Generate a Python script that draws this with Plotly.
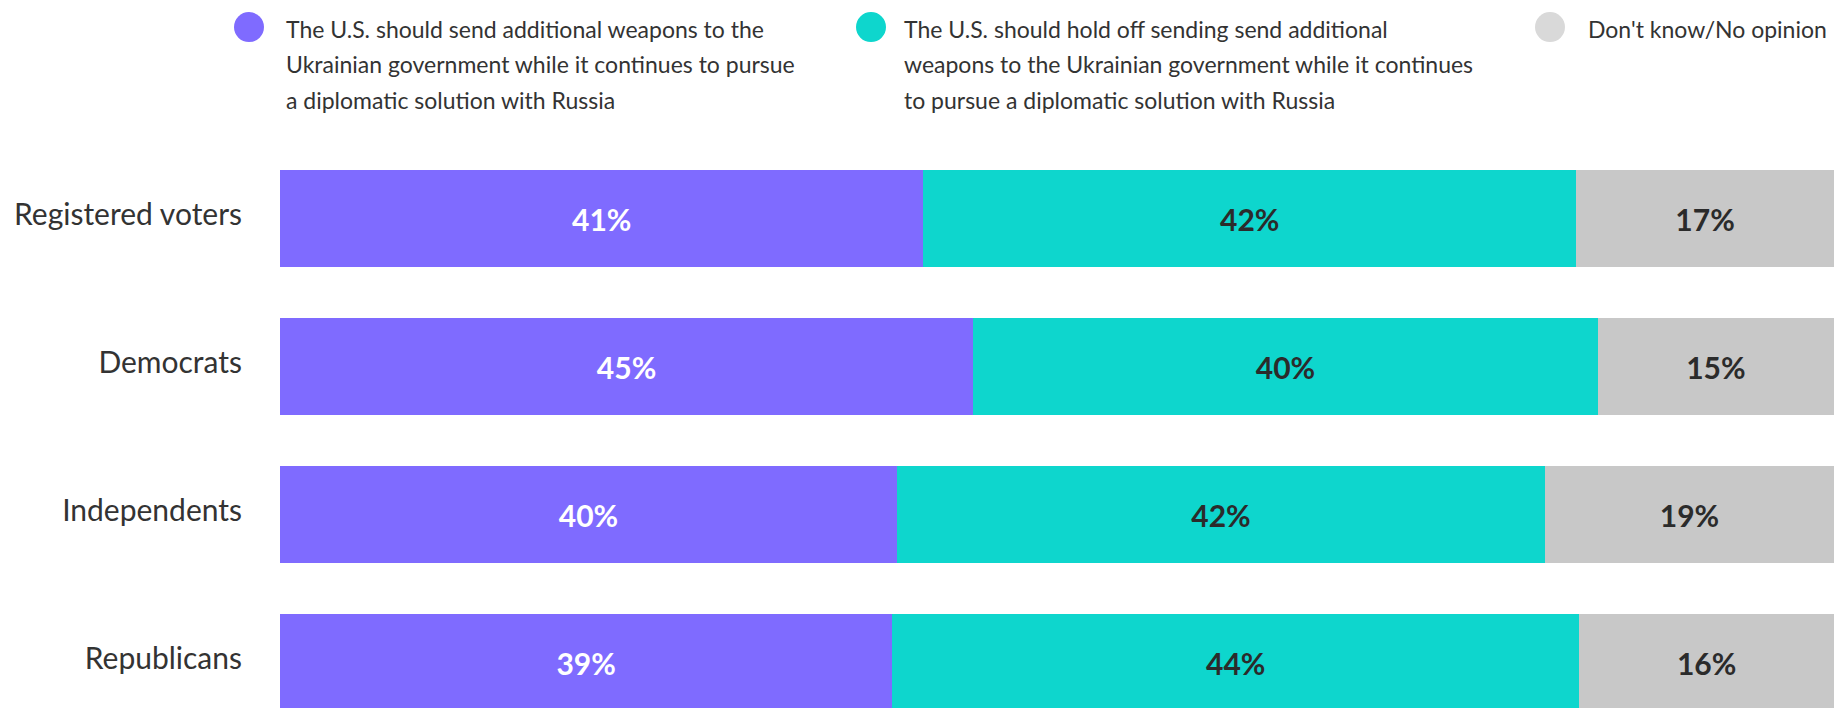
import plotly.graph_objects as go

# ---- data ----
groups = ["Registered voters", "Democrats", "Independents", "Republicans"]
send_more = [41.4, 44.6, 39.7, 39.4]
hold_off = [42.0, 40.2, 41.7, 44.2]
dont_know = [16.6, 15.2, 18.6, 16.4]
send_labels = ["41%", "45%", "40%", "39%"]
hold_labels = ["42%", "40%", "42%", "44%"]
dk_labels = ["17%", "15%", "19%", "16%"]

series_names = [
    "The U.S. should send additional weapons to the Ukrainian government while it continues to pursue a diplomatic solution with Russia",
    "The U.S. should hold off sending send additional weapons to the Ukrainian government while it continues to pursue a diplomatic solution with Russia",
    "Don't know/No opinion",
]
legend_lines = [
    ["The U.S. should send additional weapons to the",
     "Ukrainian government while it continues to pursue",
     "a diplomatic solution with Russia"],
    ["The U.S. should hold off sending send additional",
     "weapons to the Ukrainian government while it continues",
     "to pursue a diplomatic solution with Russia"],
    ["Don't know/No opinion"],
]

# ---- style ----
W, H = 1834, 708
ML, MR, MT, MB = 280, 0, 144.5, 0
PURPLE = "#7F6BFF"
TEAL = "#0ED6CD"
GREY = "#C8C8C8"
LEG_COLORS = ["#7F6BFF", "#0ED6CD", "#D9D9D9"]
FONT = "Lato, 'Open Sans', sans-serif"
TXT = "#333333"

fig = go.Figure()
for vals, labels, color, tcolor, name in [
    (send_more, send_labels, PURPLE, "white", series_names[0]),
    (hold_off, hold_labels, TEAL, "#2b2b2b", series_names[1]),
    (dont_know, dk_labels, GREY, "#2b2b2b", series_names[2]),
]:
    fig.add_trace(go.Bar(
        y=groups, x=vals, orientation="h", name=name,
        marker=dict(color=color, line=dict(width=0)),
        text=labels, textposition="inside", insidetextanchor="middle",
        textangle=0, constraintext="none",
        textfont=dict(family=FONT, size=30, color=tcolor, weight="bold"),
        showlegend=False, hoverinfo="skip",
    ))

plot_w = W - ML - MR
plot_h = H - MT - MB
row_px = 148.0
y_bottom = -0.5 + plot_h / row_px

def px_x(p):
    return (p - ML) / plot_w

def px_y(p):
    return (H - MB - p) / plot_h

# legend built from dots and text lines
dot_x = [249, 871, 1550]
text_x = [284, 902, 1586]
dot_y = 26.5
line_y0 = 28
line_step = 35.7
shapes = []
annotations = []
for i, lines in enumerate(legend_lines):
    shapes.append(dict(
        type="circle", xref="paper", yref="paper",
        xsizemode="pixel", ysizemode="pixel",
        xanchor=px_x(dot_x[i]), yanchor=px_y(dot_y),
        x0=-15, x1=15, y0=-15, y1=15,
        fillcolor=LEG_COLORS[i], line=dict(width=0),
    ))
    for j, line in enumerate(lines):
        annotations.append(dict(
            text=line, xref="paper", yref="paper",
            x=px_x(text_x[i]), y=px_y(line_y0 + j * line_step),
            xanchor="left", yanchor="middle", showarrow=False,
            font=dict(family=FONT, size=23, color=TXT),
        ))

fig.update_layout(
    width=W, height=H,
    margin=dict(l=ML, r=MR, t=MT, b=MB, pad=0),
    barmode="stack", bargap=1 - 97 / row_px,
    plot_bgcolor="white", paper_bgcolor="white",
    xaxis=dict(range=[0, 100], visible=False, fixedrange=True),
    yaxis=dict(
        categoryorder="array", categoryarray=groups,
        range=[y_bottom, -0.5],
        showgrid=False, zeroline=False, showline=False,
        ticks="", ticklabelstandoff=37, ticklabelshift=4,
        tickfont=dict(family=FONT, size=30, color=TXT),
        fixedrange=True,
    ),
    shapes=shapes, annotations=annotations,
    showlegend=False,
)

fig.write_html(
    "out.html",
    config={"displayModeBar": False},
    post_script="document.body.style.margin='0';document.body.style.overflow='hidden';",
)
